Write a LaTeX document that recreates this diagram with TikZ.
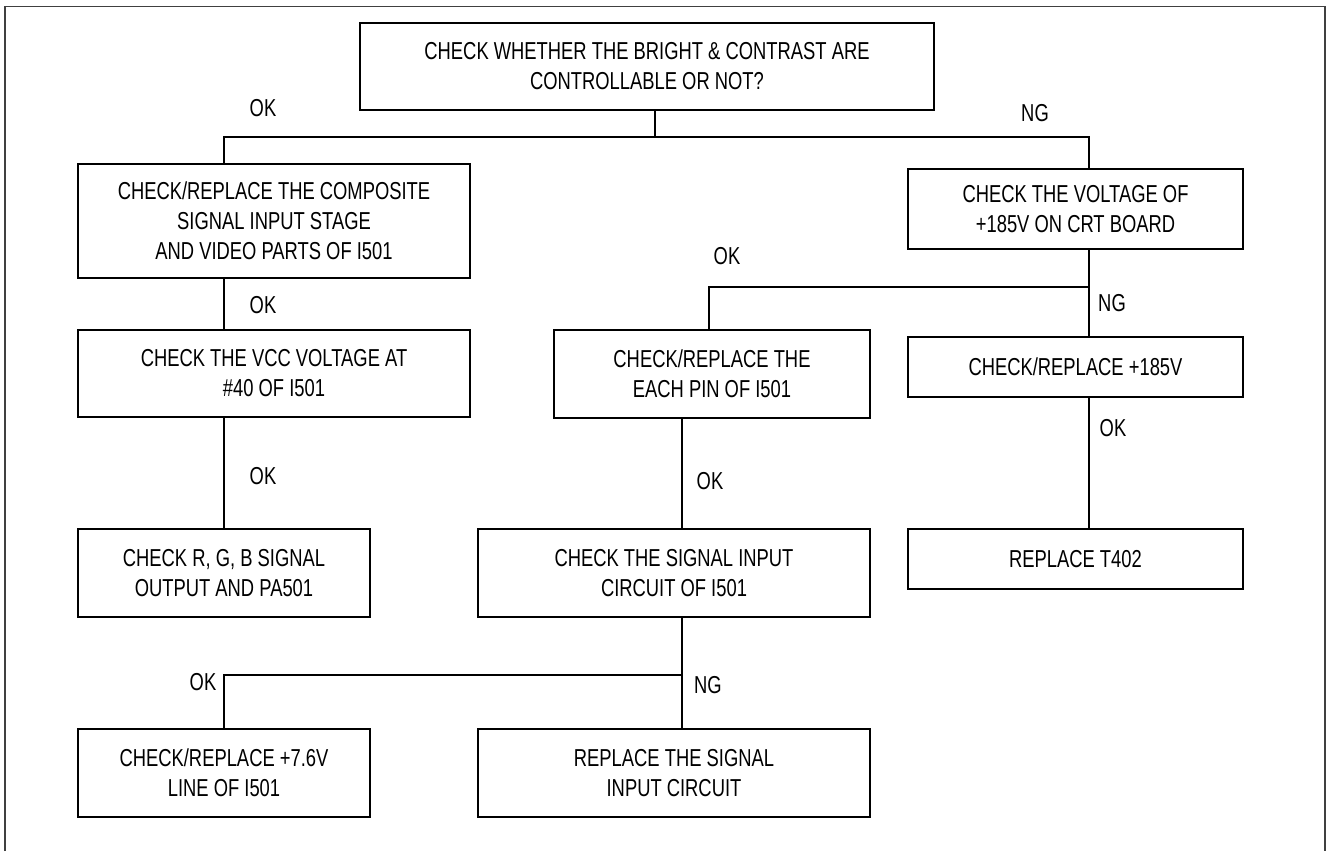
\documentclass[tikz,border=0pt]{standalone}
\usepackage{fontspec}
\setmainfont{Liberation Sans}[FakeStretch=0.75]
\begin{document}
\begin{tikzpicture}[x=1pt,y=-1pt,
  box/.style={draw, line width=1.4pt, align=center, inner sep=0pt, font=\fontsize{24.5}{30}\selectfont},
  lbl/.style={inner sep=0pt, font=\fontsize{24.5}{30}\selectfont},
  conn/.style={line width=1.4pt}]
\useasboundingbox (0,0) rectangle (1327,851);
\draw[black!75, line width=1.6pt] (5,851) -- (5,6.5) -- (1325,6.5) -- (1325,851);
% boxes
\node[box, minimum width=574pt, minimum height=87pt] (top) at (647,66.5) {CHECK WHETHER THE BRIGHT \& CONTRAST ARE\\CONTROLLABLE OR NOT?};
\node[box, minimum width=392pt, minimum height=114pt] (A) at (274,221) {CHECK/REPLACE THE COMPOSITE\\SIGNAL INPUT STAGE\\AND VIDEO PARTS OF I501};
\node[box, minimum width=392pt, minimum height=87pt] (B) at (274,373.5) {CHECK THE VCC VOLTAGE AT\\\#40 OF I501};
\node[box, minimum width=292pt, minimum height=88pt] (C) at (224,573) {CHECK R, G, B SIGNAL\\OUTPUT AND PA501};
\node[box, minimum width=292pt, minimum height=88pt] (D) at (224,773) {CHECK/REPLACE +7.6V\\LINE OF I501};
\node[box, minimum width=335pt, minimum height=80pt] (J) at (1075.5,209) {CHECK THE VOLTAGE OF\\+185V ON CRT BOARD};
\node[box, minimum width=335pt, minimum height=60pt] (H) at (1075.5,367) {CHECK/REPLACE +185V};
\node[box, minimum width=335pt, minimum height=60pt] (I) at (1075.5,559) {REPLACE T402};
\node[box, minimum width=316pt, minimum height=88pt] (F) at (712,374) {CHECK/REPLACE THE\\EACH PIN OF I501};
\node[box, minimum width=392pt, minimum height=88pt] (G) at (674,573) {CHECK THE SIGNAL INPUT\\CIRCUIT OF I501};
\node[box, minimum width=392pt, minimum height=88pt] (E) at (674,773) {REPLACE THE SIGNAL\\INPUT CIRCUIT};
% junction points
\coordinate (t1) at (655,137);
\coordinate (tl) at (224,137);
\coordinate (tr) at (1089,137);
\coordinate (j2) at (1089,287);
\coordinate (f1) at (709,287);
\coordinate (g1) at (682,675);
% connectors
\draw[conn] (top.south -| t1) -- (t1);
\draw[conn] (A.north -| tl) -- (tl) -- (tr) -- (J.north -| tr);
\draw[conn] (A.south -| tl) -- (B.north -| tl);
\draw[conn] (B.south -| tl) -- (C.north);
\draw[conn] (J.south -| tr) -- (H.north -| tr);
\draw[conn] (F.north -| f1) -- (f1) -- (j2);
\draw[conn] (H.south -| tr) -- (I.north -| tr);
\draw[conn] (F.south -| g1) -- (G.north -| g1);
\draw[conn] (G.south -| g1) -- (E.north -| g1);
\draw[conn] (g1) -- (D.north |- g1) -- (D.north);
% labels
\node[lbl] (l1) at (263,108) {OK};
\node[lbl] (l2) at (1035,113) {NG};
\node[lbl] (l3) at (263,305) {OK};
\node[lbl] (l4) at (263,476) {OK};
\node[lbl] (l5) at (727,256) {OK};
\node[lbl] (l6) at (1112,303) {NG};
\node[lbl] (l7) at (1113,428) {OK};
\node[lbl] (l8) at (710,481) {OK};
\node[lbl] (l9) at (203,682) {OK};
\node[lbl] (l10) at (708,685) {NG};
\end{tikzpicture}
\end{document}
